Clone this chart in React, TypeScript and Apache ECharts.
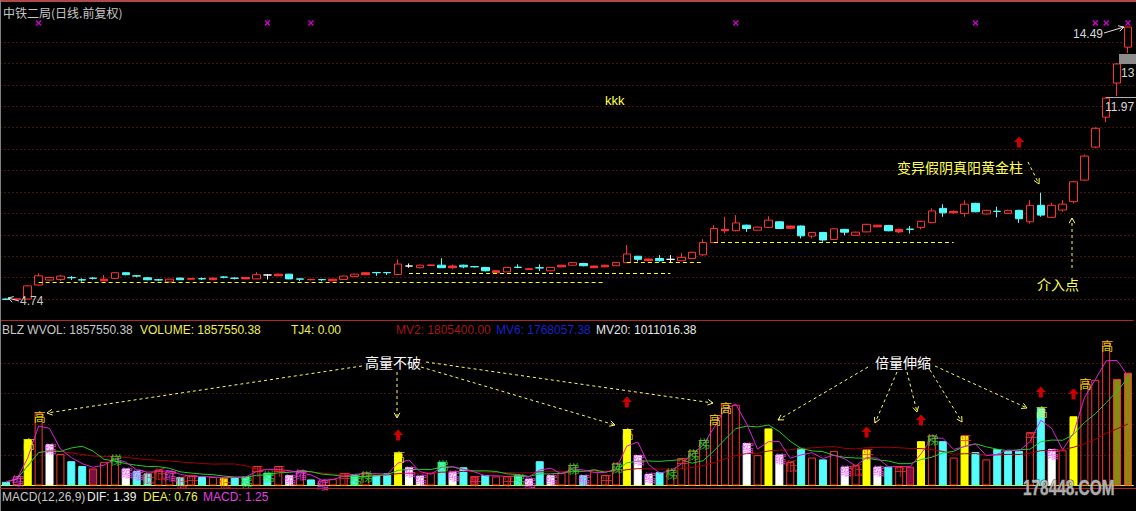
import React, { useEffect, useRef } from "react";
import * as echarts from "echarts";

// ---------- data ----------
const categories: string[] = Array.from({ length: 104 }, (_, i) => String(i + 1));

const opens = [4.76, 4.75, 4.76, 5.26, 5.44, 5.46, 5.53, 5.45, 5.51, 5.41,
  5.50, 5.70, 5.59, 5.52, 5.45, 5.37, 5.51, 5.47, 5.49, 5.45,
  5.55, 5.51, 5.48, 5.48, 5.62, 5.59, 5.65, 5.48, 5.45, 5.46,
  5.41, 5.46, 5.57, 5.63, 5.71, 5.71, 5.64, 5.94, 5.88, 5.96,
  5.97, 5.88, 5.97, 5.92, 5.89, 5.70, 5.73, 5.90, 5.82, 5.88,
  5.77, 5.91, 5.97, 6.03, 5.88, 5.91, 5.95, 6.06, 6.29, 6.13,
  6.21, 6.18, 6.13, 6.21, 6.34, 6.78, 7.20, 7.20, 7.40, 7.22,
  7.32, 7.52, 7.29, 7.37, 7.01, 7.14, 6.89, 7.25, 7.04, 7.16,
  7.34, 7.39, 7.16, 7.26, 7.32, 7.49, 8.00, 7.84, 7.82, 8.18,
  7.80, 7.90, 7.82, 7.93, 7.52, 8.11, 7.68, 7.94, 8.24, 9.01,
  10.19, 11.26, 12.48, 13.76];
const closes = [4.75, 4.77, 5.23, 5.59, 5.53, 5.58, 5.52, 5.44, 5.50, 5.47,
  5.70, 5.63, 5.58, 5.45, 5.44, 5.47, 5.45, 5.49, 5.48, 5.51,
  5.54, 5.50, 5.53, 5.63, 5.62, 5.65, 5.48, 5.47, 5.46, 5.45,
  5.47, 5.58, 5.65, 5.70, 5.70, 5.70, 6.01, 5.94, 5.97, 5.98,
  5.88, 5.94, 5.91, 5.91, 5.77, 5.77, 5.89, 5.89, 5.84, 5.87,
  5.89, 5.97, 6.06, 5.95, 5.94, 5.97, 6.07, 6.37, 6.18, 6.19,
  6.13, 6.18, 6.25, 6.43, 6.78, 7.28, 7.25, 7.48, 7.28, 7.33,
  7.58, 7.28, 7.37, 7.02, 7.14, 6.87, 7.27, 7.15, 7.15, 7.43,
  7.40, 7.20, 7.25, 7.25, 7.54, 7.91, 7.84, 7.89, 8.15, 7.88,
  7.93, 7.89, 7.93, 7.63, 8.11, 7.76, 8.11, 8.15, 8.95, 9.87,
  10.86, 11.94, 13.16, 14.48];
const lows = [4.74, 4.74, 4.75, 5.24, 5.42, 5.41, 5.44, 5.38, 5.46, 5.40,
  5.48, 5.61, 5.54, 5.43, 5.41, 5.36, 5.44, 5.46, 5.44, 5.44,
  5.50, 5.46, 5.47, 5.47, 5.46, 5.58, 5.47, 5.40, 5.43, 5.40,
  5.40, 5.45, 5.56, 5.62, 5.59, 5.62, 5.63, 5.88, 5.86, 5.95,
  5.87, 5.83, 5.86, 5.89, 5.75, 5.68, 5.72, 5.86, 5.80, 5.76,
  5.76, 5.90, 5.96, 5.93, 5.87, 5.90, 5.94, 6.05, 6.10, 6.12,
  6.10, 6.05, 6.12, 6.20, 6.30, 6.76, 7.11, 7.18, 7.16, 7.20,
  7.30, 7.26, 7.27, 6.93, 6.93, 6.81, 6.87, 7.04, 7.02, 7.14,
  7.33, 7.18, 7.12, 7.10, 7.25, 7.47, 7.70, 7.80, 7.70, 7.86,
  7.78, 7.68, 7.80, 7.48, 7.46, 7.70, 7.66, 7.88, 8.18, 8.99,
  10.15, 11.08, 12.01, 13.55];
const highs = [4.78, 4.78, 5.25, 5.68, 5.55, 5.62, 5.58, 5.50, 5.55, 5.62,
  5.72, 5.72, 5.62, 5.55, 5.48, 5.48, 5.52, 5.50, 5.53, 5.53,
  5.58, 5.54, 5.54, 5.72, 5.64, 5.66, 5.66, 5.50, 5.49, 5.48,
  5.48, 5.59, 5.66, 5.71, 5.72, 5.72, 6.18, 6.03, 5.99, 6.00,
  6.22, 5.99, 5.99, 5.94, 5.91, 5.79, 5.90, 6.00, 5.86, 6.00,
  5.90, 5.98, 6.07, 6.05, 5.95, 5.98, 6.08, 6.69, 6.30, 6.20,
  6.33, 6.33, 6.41, 6.45, 6.90, 7.40, 7.70, 7.76, 7.42, 7.35,
  7.72, 7.54, 7.38, 7.39, 7.16, 7.16, 7.29, 7.27, 7.17, 7.45,
  7.41, 7.41, 7.27, 7.37, 7.56, 8.00, 8.15, 7.93, 8.29, 8.20,
  7.95, 8.06, 7.95, 7.95, 8.29, 8.56, 8.20, 8.29, 8.99, 9.92,
  10.90, 11.97, 13.20, 14.49];
// h = hollow red, s = solid red, c = cyan, w = white doji
const candleKinds =
  "cshhhhcccs" + "hcccchcscs" + "ccshwsccsc" + "shhscchwhs" + "cscccshcsc" +
  "hshcsshhcs" + "cwhhhhshch" + "hcschchchh" + "scschhcshc" + "hchchchhhh" + "hhhh";

const volumes = [60000, 150000, 760000, 1200000, 680000, 520000, 400000, 320000, 280000, 390000,
  490000, 280000, 240000, 200000, 260000, 230000, 140000, 160000, 140000, 140000,
  120000, 140000, 140000, 320000, 210000, 320000, 170000, 250000, 100000, 80000,
  110000, 200000, 170000, 220000, 170000, 200000, 540000, 300000, 160000, 210000,
  390000, 230000, 300000, 150000, 170000, 150000, 150000, 170000, 110000, 400000,
  170000, 210000, 340000, 170000, 260000, 170000, 370000, 930000, 500000, 190000,
  220000, 260000, 450000, 580000, 750000, 1160000, 1350000, 1330000, 700000, 500000,
  940000, 510000, 390000, 620000, 460000, 430000, 570000, 310000, 330000, 590000,
  310000, 310000, 310000, 310000, 730000, 830000, 730000, 460000, 820000, 550000,
  430000, 600000, 570000, 570000, 870000, 1280000, 600000, 580000, 1140000, 1750000,
  1740000, 2367544, 1753250, 1857550];
// r = hollow red, c = cyan, y = yellow, w = white, m = maroon, o = olive
const volumeKinds =
  "cryrwrccmr" + "rwccrrcrcr" + "yccrcrwrcr" + "rrcrccywwr" + "cwcmcrrcwc" +
  "wrrcrrryww" + "crrrrrrrwr" + "ywrcrcrwry" + "wcrmyrcryc" + "rcccrcwryr" + "rroo";

const tagBars = [1, 2, 3, 4, 10, 11, 12, 13, 14, 15, 16, 17, 20, 22, 23, 24, 25, 26, 27, 29, 31, 32, 33,
  36, 37, 38, 40, 41, 43, 46, 47, 48, 50, 52, 53, 55, 56, 57, 58, 59, 61, 62, 63, 64, 65, 66, 68,
  71, 72, 77, 78, 79, 80, 82, 85, 88, 94, 95, 96, 99, 101];
const tagChars = ["缩", "高", "高", "缩", "梯", "缩", "缩", "低", "低", "缩", "低", "平", "低", "梯", "平", "梯", "平", "缩", "缩", "缩", "平", "梯", "梯",
  "高", "缩", "缩", "梯", "缩", "平", "平", "梯", "缩", "缩", "梯", "缩", "平", "梯", "高", "缩", "缩", "梯", "平", "梯", "梯", "高", "高", "缩",
  "缩", "低", "缩", "低", "平", "缩", "平", "梯", "平", "平", "高", "缩", "高", "高"];

const markBars = [3, 24, 28, 67, 89, 100, 101, 103];
const markPrice = 14.62;
const priceArrowBars = [93];
const priceArrowValues = [10.37];
const volArrowBars = [36, 57, 79, 84, 95, 98];
const volArrowValues = [830000, 1375000, 880000, 1080000, 1540000, 1510000];

const supportFrom = [3, 37, 57, 65];
const supportTo = [55, 61, 64, 87];
const supportPrice = [5.355, 5.676, 6.07, 6.785];

const maPeriods = [2, 6, 20];

const headerTexts = ["BLZ WVOL: 1857550.38", "VOLUME: 1857550.38", "TJ4: 0.00", "MV2: 1805400.00", "MV6: 1768057.38", "MV20: 1011016.38"];
const macdTexts = ["MACD(12,26,9)", "DIF: 1.39", "DEA: 0.76", "MACD: 1.25"];

// ---------- styles ----------
const RED = "#FF3232";
const CYAN = "#54FCFC";
const YEL = "#FFFF54";
const FONT = '"Liberation Sans", Arial, "Noto Sans CJK SC", sans-serif';
const CJK = '"Noto Sans CJK SC", "Noto Sans CJK JP", sans-serif';

const tagColor: Record<string, string> = { "高": "#FFFF00", "梯": "#22EE22", "缩": "#FF40FF", "平": "#FF3030", "低": "#FF3030" };

function movingAvg(arr: number[], n: number) {
  return arr.map((_, i) => {
    const s = Math.max(0, i - n + 1);
    let t = 0;
    for (let k = s; k <= i; k++) t += arr[k];
    return t / (i - s + 1);
  });
}

function txt(text: string, x: number, y: number, fill: string, size = 12, family = FONT, extra: any = {}) {
  return {
    type: "text", x, y, silent: true, z: 100,
    style: { text, fill, font: `${size}px ${family}`, verticalAlign: "middle", align: "left", textVerticalAlign: "middle", textAlign: "left" },
    ...extra,
  };
}

function arrow(x1: number, y1: number, x2: number, y2: number, color: string, dash: number[] | null = [3, 3]) {
  const a = Math.atan2(y2 - y1, x2 - x1);
  const L = 6, s = 0.5;
  const p1 = [x2 - L * Math.cos(a - s), y2 - L * Math.sin(a - s)];
  const p2 = [x2 - L * Math.cos(a + s), y2 - L * Math.sin(a + s)];
  return [
    { type: "line", silent: true, z: 100, shape: { x1, y1, x2, y2 }, style: { stroke: color, lineWidth: 1, lineDash: dash || undefined } },
    { type: "polyline", silent: true, z: 100, shape: { points: [p1, [x2, y2], p2] }, style: { stroke: color, lineWidth: 1, fill: null } },
  ];
}

function candleStyle(k: string) {
  if (k === "s") return { color: RED, borderColor: RED };
  if (k === "w") return { color: "#FFFFFF", color0: "#FFFFFF", borderColor: "#FFFFFF", borderColor0: "#FFFFFF" };
  return undefined;
}

function volStyle(k: string) {
  switch (k) {
    case "c": return { color: CYAN, borderColor: CYAN, borderWidth: 1 };
    case "y": return { color: "#FFFF00", borderColor: "#FFFF00", borderWidth: 1 };
    case "w": return { color: "#FFFFFF", borderColor: "#FFFFFF", borderWidth: 1 };
    case "m": return { color: "#7A1040", borderColor: RED, borderWidth: 1 };
    case "o": return { color: "#8A8A10", borderColor: RED, borderWidth: 1 };
    default: return { color: "rgba(0,0,0,0)", borderColor: RED, borderWidth: 1 };
  }
}

function buildOption() {
  const candleData = opens.map((o, i) => {
    const st = candleStyle(candleKinds[i] || "h");
    const v = [o, closes[i], lows[i], highs[i]];
    return st ? { value: v, itemStyle: st } : v;
  });
  const volData = volumes.map((v, i) => ({ value: v, itemStyle: volStyle(volumeKinds[i] || "r") }));
  const [ma2, ma6, ma20] = maPeriods.map((n) => movingAvg(volumes, n));

  const tagData = tagBars.map((b, k) => ({
    value: [b, volumes[b]],
    label: { show: true, formatter: tagChars[k], color: tagColor[tagChars[k]] || "#fff" },
  }));

  const arrowSym = "path://M5 0 L10 5 L7 5 L7 10 L3 10 L3 5 L0 5 Z";
  const xSym = "path://M0 1 L1 0 L3 2 L5 0 L6 1 L4 3 L6 5 L5 6 L3 4 L1 6 L0 5 L2 3 Z";

  const gridLineAxis = (gridIndex: number, max: number) => ({
    type: "value", gridIndex, min: 0, max, interval: 1,
    axisLine: { show: false }, axisTick: { show: false }, axisLabel: { show: false },
    splitLine: { show: true, showMinLine: false, showMaxLine: false, lineStyle: { color: "#962222", width: 1, type: [1, 3] } },
  });

  const graphics: any[] = [
    { type: "rect", silent: true, z: 100, shape: { x: 0, y: 0, width: 1136, height: 2 }, style: { fill: "#B04848" } },
    { type: "rect", silent: true, z: 100, shape: { x: 0, y: 0, width: 1, height: 511 }, style: { fill: "#808080" } },
    { type: "line", silent: true, z: 100, shape: { x1: 0, y1: 488.5, x2: 1136, y2: 488.5 }, style: { stroke: "#B02828", lineWidth: 1 } },
    txt("中铁二局(日线.前复权)", 3, 12, "#C8C8C8", 12, CJK),
    txt("kkk", 605, 100, YEL, 13),
    txt("变异假阴真阳黄金柱", 897, 167, YEL, 14, CJK),
    txt("介入点", 1037, 284, YEL, 14, CJK),
    txt("14.49", 1073, 34, "#D8D8D8", 12),
    ...arrow(1104, 33, 1124, 27, "#E0E0E0", null),
    { type: "rect", silent: true, z: 100, shape: { x: 1119, y: 54, width: 17, height: 10 }, style: { fill: "#8C8C8C" } },
    txt("13", 1121, 73, "#D8D8D8", 12),
    { type: "line", silent: true, z: 100, shape: { x1: 1106, y1: 97.5, x2: 1136, y2: 97.5 }, style: { stroke: "#B0B0B0", lineWidth: 1 } },
    txt("11.97", 1105, 107, "#D8D8D8", 12),
    txt("4.74", 20, 301, "#C8C8C8", 12),
    ...arrow(19, 301, 8, 298, "#E0E0E0", null),
    ...arrow(1028, 162, 1039, 184, YEL),
    ...arrow(1072, 268, 1072, 218, YEL),
    // volume header
    txt(headerTexts[0], 2, 330, "#C8C8C8", 12),
    txt(headerTexts[1], 140, 330, "#F0F050", 12),
    txt(headerTexts[2], 291, 330, "#F0F050", 12),
    txt(headerTexts[3], 396, 330, "#A01818", 12),
    txt(headerTexts[4], 496, 330, "#1820C8", 12),
    txt(headerTexts[5], 596, 330, "#E8E8E8", 12),
    // volume annotations
    txt("高量不破", 365, 362, "#FFFFFF", 14, CJK),
    txt("倍量伸缩", 875, 362, "#FFFFFF", 14, CJK),
    ...arrow(362, 366, 47, 413, YEL),
    ...arrow(397, 372, 397, 418, YEL),
    ...arrow(421, 367, 615, 425, YEL),
    ...arrow(426, 362, 713, 403, YEL),
    ...arrow(868, 367, 778, 420, YEL),
    ...arrow(897, 372, 875, 423, YEL),
    ...arrow(907, 372, 917, 412, YEL),
    ...arrow(930, 370, 962, 422, YEL),
    ...arrow(935, 366, 1027, 408, YEL),
    // macd row
    txt(macdTexts[0], 2, 497, "#C8C8C8", 12),
    txt(macdTexts[1], 87, 497, "#F0F0F0", 12),
    txt(macdTexts[2], 143, 497, "#F0F050", 12),
    txt(macdTexts[3], 203, 497, "#E040E0", 12),
    {
      type: "text", silent: true, z: 100, x: 1023, y: 487, scaleX: 0.7,
      style: { text: "178448.COM", fill: "rgba(200,200,200,0.85)", stroke: "#505050", lineWidth: 1, font: `bold 22px ${FONT}`, verticalAlign: "middle", textVerticalAlign: "middle" },
    },
  ];

  return {
    animation: false,
    backgroundColor: "#000000",
    grid: [
      { left: 0.5, right: 2.6, top: 20.6, height: 300 },
      { left: 0.5, right: 2.6, top: 332.5, height: 153 },
    ],
    xAxis: [
      { type: "category", gridIndex: 0, data: categories, boundaryGap: true, axisLine: { show: true, onZero: false, lineStyle: { color: "#B02828", width: 1 } }, axisTick: { show: false }, axisLabel: { show: false }, splitLine: { show: false } },
      { type: "category", gridIndex: 1, data: categories, boundaryGap: true, axisLine: { show: true, onZero: false, lineStyle: { color: "#E8E800", width: 1 } }, axisTick: { show: false }, axisLabel: { show: false }, splitLine: { show: false } },
    ],
    yAxis: [
      { type: "value", gridIndex: 0, min: 3.99, max: 14.71, show: false },
      gridLineAxis(0, 14),
      { type: "value", gridIndex: 1, min: 0, max: 2520000, show: false },
      gridLineAxis(1, 5),
    ],
    series: [
      {
        type: "candlestick", xAxisIndex: 0, yAxisIndex: 0, barWidth: 8, z: 3,
        itemStyle: { color: "#000000", color0: CYAN, borderColor: RED, borderColor0: CYAN, borderWidth: 1 },
        data: candleData,
        markLine: {
          silent: true, symbol: ["none", "none"], label: { show: false }, emphasis: { disabled: true },
          lineStyle: { color: "#FFFF00", type: [4, 3], width: 1 },
          data: supportPrice.map((p, k) => [{ coord: [supportFrom[k], p] }, { coord: [supportTo[k], p] }]),
        },
      },
      {
        type: "scatter", xAxisIndex: 0, yAxisIndex: 0, symbol: xSym, symbolSize: 6, z: 4,
        itemStyle: { color: "#FF00FF" },
        data: markBars.map((b) => [b, markPrice]),
      },
      {
        type: "scatter", xAxisIndex: 0, yAxisIndex: 0, symbol: arrowSym, symbolSize: [10, 11], z: 4,
        itemStyle: { color: "#FF0000" },
        data: priceArrowBars.map((b, k) => [b, priceArrowValues[k]]),
      },
      {
        type: "bar", xAxisIndex: 1, yAxisIndex: 2, barWidth: 8, z: 2,
        data: volData,
      },
      { type: "line", xAxisIndex: 1, yAxisIndex: 2, data: ma20, symbol: "none", z: 3, lineStyle: { color: "#A00000", width: 1 } },
      { type: "line", xAxisIndex: 1, yAxisIndex: 2, data: ma6, symbol: "none", z: 3, lineStyle: { color: "#22CC22", width: 1 } },
      { type: "line", xAxisIndex: 1, yAxisIndex: 2, data: ma2, symbol: "none", z: 3, lineStyle: { color: "#E020E0", width: 1 } },
      {
        type: "scatter", xAxisIndex: 1, yAxisIndex: 2, symbolSize: 1, z: 5,
        itemStyle: { color: "rgba(0,0,0,0)" },
        label: { show: true, position: "inside", offset: [1, 4], fontSize: 12, fontFamily: CJK },
        data: tagData,
      },
      {
        type: "scatter", xAxisIndex: 1, yAxisIndex: 2, symbol: arrowSym, symbolSize: [10, 11], z: 5,
        itemStyle: { color: "#FF0000" },
        data: volArrowBars.map((b, k) => [b, volArrowValues[k]]),
      },
    ],
    graphic: { elements: graphics },
  };
}

export default function App() {
  const ref = useRef<HTMLDivElement>(null);
  useEffect(() => {
    document.body.style.margin = "0";
    document.body.style.background = "#000";
    if (!ref.current) return;
    const chart = echarts.init(ref.current, null, { renderer: "svg", width: 1136, height: 511 });
    chart.setOption(buildOption() as any);
    return () => chart.dispose();
  }, []);
  return <div ref={ref} style={{ position: "absolute", left: 0, top: 0, width: 1136, height: 511, background: "#000" }} />;
}
